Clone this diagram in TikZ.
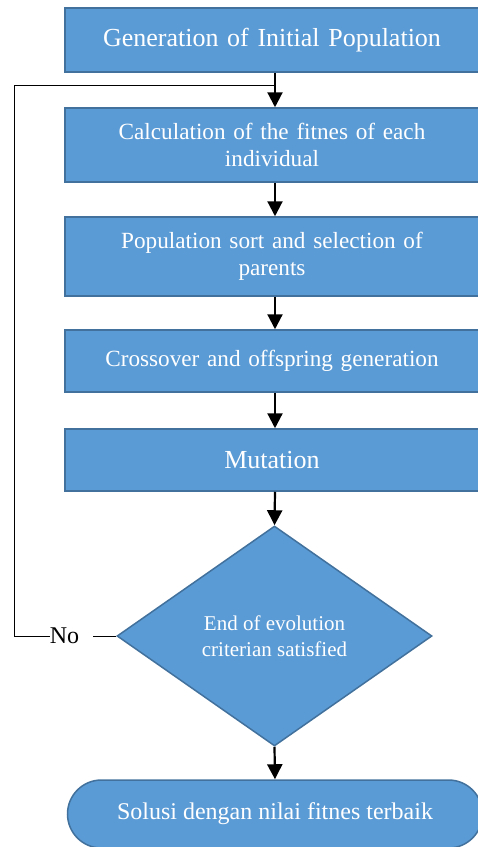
\documentclass[tikz,border=0pt]{standalone}
\usepackage{fontspec}
\setmainfont{Liberation Serif}
\usetikzlibrary{shapes.geometric,shapes.misc,arrows.meta}
\definecolor{boxfill}{HTML}{5B9BD5}
\definecolor{boxline}{HTML}{41719C}
\tikzset{
  procbox/.style={rectangle, draw=boxline, line width=1.5pt, fill=boxfill,
    text=white, minimum width=414pt, align=center, inner sep=0pt,
    text width=360pt},
  decbox/.style={diamond, draw=boxline, line width=1.5pt, fill=boxfill,
    text=white, minimum width=315pt, minimum height=220pt, aspect=1.43,
    inner sep=0pt, align=center},
  termbox/.style={rounded rectangle, draw=boxline, line width=1.5pt, fill=boxfill,
    text=white, minimum width=415pt, minimum height=68pt, inner sep=0pt},
  flowarrow/.style={line width=2.2pt, -{Triangle[width=15pt,length=15pt]}},
  backline/.style={line width=1pt},
}
\begin{document}
\begin{tikzpicture}[x=1pt,y=-1pt]
\useasboundingbox (0,0) rectangle (478,847);
\node[procbox, minimum height=64pt, font=\fontsize{26}{30}\selectfont] (b1) at (272,40) {Generation of Initial Population};
\node[procbox, minimum height=74pt, font=\fontsize{23.2}{27.5}\selectfont] (b2) at (272,145) {Calculation of the fitnes of each\\individual};
\node[procbox, minimum height=79pt, font=\fontsize{23.2}{27.5}\selectfont] (b3) at (272,256.5) {Population sort and selection of\\parents};
\node[procbox, minimum height=62pt, font=\fontsize{23.2}{27.5}\selectfont] (b4) at (272,361) {Crossover and offspring generation};
\node[procbox, minimum height=62pt, font=\fontsize{26}{30}\selectfont] (b5) at (272,460) {Mutation};
\node[decbox, font=\fontsize{21}{26}\selectfont] (d) at (274.5,636) {End of evolution\\criterian satisfied};
\node[termbox, font=\fontsize{24}{27.5}\selectfont] (t) at (275,814) {Solusi dengan nilai fitnes terbaik};
\node[inner sep=0pt, font=\fontsize{24}{27.5}\selectfont] (no) at (64.5,636) {No};
\coordinate (j) at (275,85);
\coordinate (c) at (14,636);
\draw[flowarrow] (b1.south -| j) -- (b2.north -| j);
\draw[flowarrow] (b2.south -| j) -- (b3.north -| j);
\draw[flowarrow] (b3.south -| j) -- (b4.north -| j);
\draw[flowarrow] (b4.south -| j) -- (b5.north -| j);
\draw[flowarrow] (b5.south -| j) -- (d.north);
\draw[flowarrow] (d.south) -- (t.north);
\draw[backline] (d.west) -- ([xshift=14pt]no.east);
\draw[backline] (no.west) -- (c) |- (j);
\end{tikzpicture}
\end{document}
